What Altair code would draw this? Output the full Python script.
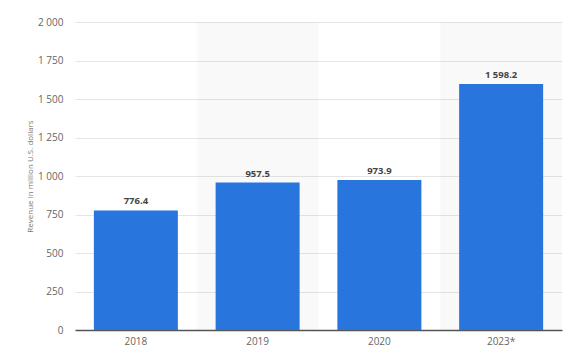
import altair as alt
import pandas as pd

years = ["2018", "2019", "2020", "2023*"]
revenue = [776.4, 957.5, 973.9, 1598.2]
shaded = ["2019", "2023*"]
y_ticks = [0, 250, 500, 750, 1000, 1250, 1500, 1750, 2000]

df = pd.DataFrame({"year": years, "revenue": revenue})
bg = pd.DataFrame({"year": shaded, "top": [2000] * len(shaded)})

FONT = "Open Sans"

x_enc = alt.X("year:N", sort=years, title=None,
              scale=alt.Scale(domain=years, paddingInner=0, paddingOuter=0),
              axis=alt.Axis(labelAngle=0, ticks=False, domainColor="#555555",
                            domainWidth=1.5, labelColor="#666666", labelFontSize=10,
                            labelPadding=6, labelFont=FONT, grid=False))
y_scale = alt.Scale(domain=[0, 2000], nice=False)
y_axis = alt.Axis(values=y_ticks, ticks=False, domain=False, labelOverlap=False,
                  gridColor="#e6e6e6", gridWidth=1,
                  labelColor="#666666", labelFontSize=10, labelFont=FONT,
                  labelPadding=12,
                  labelExpr="replace(format(datum.value, ','), ',', ' ')",
                  titleColor="#777777", titleFontSize=8, titleFont=FONT,
                  titleFontWeight="normal", titlePadding=3)
Y_TITLE = "Revenue in million U.S. dollars"

background = alt.Chart(bg).mark_bar(color="#000000", opacity=0.025).encode(
    x=x_enc,
    y=alt.Y("top:Q", scale=y_scale, title=Y_TITLE, axis=y_axis),
)

bars = alt.Chart(df).mark_bar(color="#2876dd", width=alt.RelativeBandSize(0.69)).encode(
    x=alt.X("year:N", sort=years),
    y=alt.Y("revenue:Q", scale=y_scale, title=Y_TITLE, axis=y_axis),
)

labels = alt.Chart(df).mark_text(baseline="bottom", dy=-4, fontWeight="bold",
                                 fontSize=9.5, color="#444444", font=FONT).encode(
    x=alt.X("year:N", sort=years),
    y=alt.Y("revenue:Q", scale=y_scale, title=Y_TITLE, axis=y_axis),
    text=alt.Text("lbl:N"),
).transform_calculate(lbl="replace(format(datum.revenue, ',.1f'), ',', ' ')")

chart = alt.layer(background, bars, labels).properties(
    width=487, height=308,
    autosize=alt.AutoSizeParams(type="none"),
    padding={"left": 75, "top": 22, "right": 5, "bottom": 23},
).configure_view(stroke=None)

chart.save("out.html", embed_options={"renderer": "svg", "actions": False})
